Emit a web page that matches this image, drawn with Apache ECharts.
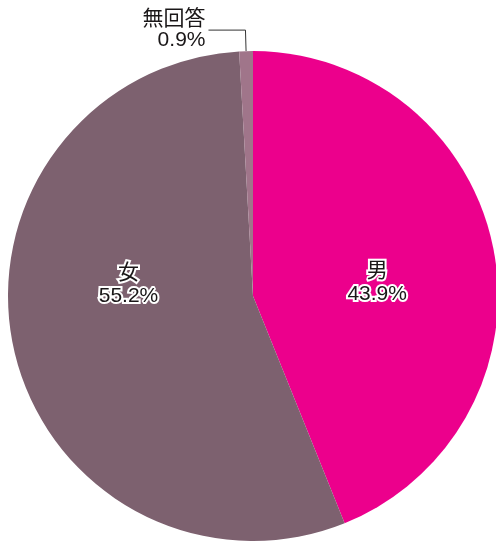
<!DOCTYPE html>
<html>
<head>
<meta charset="utf-8">
<script src="https://cdn.jsdelivr.net/npm/echarts@6/dist/echarts.min.js"></script>
<style>
  html, body { margin: 0; padding: 0; background: #fff; }
  #chart { width: 496px; height: 542px; }
</style>
</head>
<body>
<div id="chart"></div>
<script>
var categories = ['男', '女', '無回答'];
var values = [43.9, 55.2, 0.9];
var colors = ['#ec008c', '#7d616f', '#a0758a'];

var chart = echarts.init(document.getElementById('chart'));
var fontFamily = '"Liberation Sans", "Noto Sans CJK JP", sans-serif';

var insideLabel = {
    show: true,
    position: 'inside',
    formatter: '{b}\n{d}%',
    color: '#1a1718',
    fontSize: 21,
    lineHeight: 23,
    fontFamily: fontFamily,
    textBorderColor: '#fff',
    textBorderWidth: 4
};

var data = categories.map(function (name, i) {
    var item = { name: name, value: values[i], itemStyle: { color: colors[i] } };
    if (i === 0) {
        item.label = Object.assign({}, insideLabel, { offset: [1, 11] });
    } else if (i === 1) {
        item.label = Object.assign({}, insideLabel, { offset: [-2, -39] });
    } else {
        item.label = {
            show: true,
            position: 'outside',
            formatter: '{b}\n{d}%',
            color: '#1a1718',
            fontSize: 21,
            lineHeight: 21,
            fontFamily: fontFamily,
            align: 'right',
            distanceToLabelLine: 3
        };
        item.labelLine = {
            show: true,
            length: 21,
            length2: 37,
            lineStyle: { color: '#333', width: 1 }
        };
    }
    return item;
});

chart.setOption({
    animation: false,
    series: [
        {
            type: 'pie',
            center: [253, 296],
            radius: 245,
            startAngle: 90,
            clockwise: true,
            percentPrecision: 1,
            avoidLabelOverlap: false,
            emphasis: { disabled: true },
            itemStyle: { borderWidth: 0 },
            labelLine: { show: false },
            data: data
        }
    ]
});
</script>
</body>
</html>
